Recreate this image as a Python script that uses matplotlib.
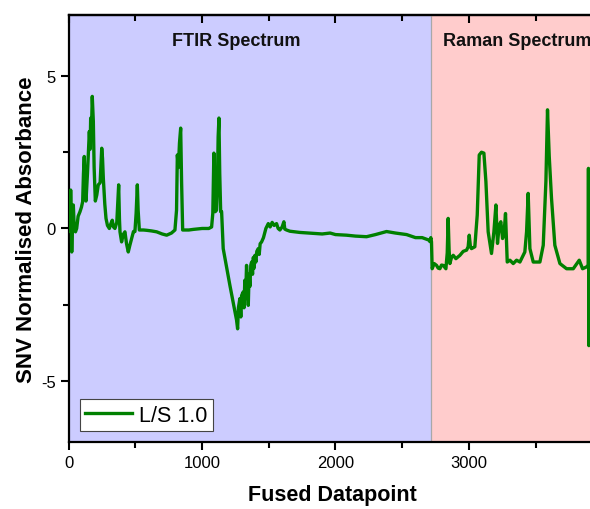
import matplotlib

matplotlib.use("Agg")
import matplotlib.pyplot as plt  # noqa: E402
from matplotlib.ticker import MultipleLocator  # noqa: E402

plt.rcParams["font.family"] = ["Liberation Sans", "DejaVu Sans"]
plt.rcParams["axes.unicode_minus"] = False

# fused FTIR + Raman spectrum
ftir_x = [5, 9, 14, 18, 22, 28, 34, 40, 50, 59, 70, 84, 95, 104, 110, 116, 122,
          129, 140, 154, 160, 164, 170, 176, 184, 190, 199, 210, 221, 235, 247,
          253, 259, 270, 279, 290, 304, 315, 326, 335, 346, 360, 374, 380, 384,
          396, 408, 421, 433, 446, 458, 471, 485, 496, 505, 514, 520, 529, 560,
          584, 620, 659, 700, 734, 770, 796, 808, 814, 822, 830, 839, 846, 854,
          900, 934, 1000, 1050, 1071, 1080, 1088, 1093, 1098, 1108, 1115, 1120,
          1126, 1132, 1139, 1146, 1158, 1208, 1246, 1258, 1266, 1272, 1283,
          1290, 1296, 1308, 1314, 1320, 1326, 1333, 1340, 1346, 1352, 1358,
          1365, 1371, 1378, 1384, 1390, 1396, 1403, 1410, 1421, 1428, 1435,
          1446, 1460, 1478, 1496, 1510, 1525, 1540, 1558, 1570, 1583, 1600,
          1613, 1620, 1633, 1658, 1733, 1800, 1900, 1960, 2000, 2083, 2150,
          2233, 2300, 2383, 2450, 2533, 2600, 2650, 2680, 2700, 2708, 2715,
          2720]
ftir_y = [0.2, -0.1, 1.26, 0.5, -0.77, 0.3, 0.77, 0.1, -0.11, 0.0, 0.4, 0.55,
          0.7, 0.88, 1.8, 2.36, 1.3, 0.9, 1.8, 3.18, 2.6, 3.62, 3.2, 4.33, 3.51,
          2.0, 0.9, 1.1, 1.43, 1.5, 2.63, 2.3, 1.64, 0.8, 0.33, 0.1, 0.0, 0.15,
          0.27, 0.05, 0.0, 0.2, 1.43, 0.3, -0.11, -0.44, -0.2, -0.11, -0.5,
          -0.77, -0.55, -0.33, -0.1, -0.1, 0.5, 1.43, 0.6, -0.05, -0.05, -0.06,
          -0.08, -0.11, -0.18, -0.22, -0.15, -0.05, 0.6, 2.41, 2.0, 2.8, 3.29,
          1.5, -0.05, -0.05, -0.03, 0.0, 0.0, 0.05, 0.5, 2.47, 1.0, 0.55, 0.6,
          1.6, 3.0, 3.62, 1.8, 0.55, 0.55, -0.66, -1.86, -2.74, -3.0, -3.29,
          -2.6, -2.3, -2.9, -2.2, -2.08, -2.6, -1.7, -2.3, -1.21, -1.9, -2.52,
          -1.5, -1.9, -1.2, -1.10, -1.5, -0.95, -1.3, -0.88, -1.1, -0.75,
          -0.66, -0.85, -0.5, -0.44, -0.3, 0.0, 0.16, 0.05, 0.2, 0.1, 0.16,
          0.0, -0.05, 0.05, 0.22, -0.02, -0.05, -0.09, -0.13, -0.15, -0.18,
          -0.15, -0.2, -0.22, -0.25, -0.27, -0.2, -0.1, -0.15, -0.2, -0.3,
          -0.3, -0.35, -0.38, -0.43, -0.3, -0.44]

raman_x = [2725, 2740, 2758, 2770, 2783, 2795, 2808, 2828, 2838, 2845, 2852,
           2858, 2870, 2883, 2903, 2933, 2958, 2983, 2995, 3003, 3012, 3020,
           3045, 3063, 3078, 3095, 3113, 3128, 3145, 3170, 3188, 3203, 3215,
           3228, 3240, 3253, 3265, 3275, 3288, 3308, 3333, 3358, 3383, 3420,
           3433, 3445, 3458, 3483, 3533, 3558, 3578, 3590, 3603, 3620, 3645,
           3683, 3733, 3783, 3828, 3853, 3883, 3895, 3897, 3900, 3903, 3920,
           3950]
raman_y = [-1.32, -1.15, -1.21, -1.3, -1.32, -1.2, -1.21, -1.32, -0.8, 0.33,
           -0.7, -1.15, -0.95, -0.88, -0.99, -0.88, -0.75, -0.71, -0.6, -0.22,
           -0.6, -0.66, -0.60, 0.44, 2.41, 2.5, 2.47, 1.54, -0.11, -0.82,
           -0.11, 0.77, -0.49, 0.11, 0.22, -0.33, -0.11, 0.49, -1.10, -1.04,
           -1.15, -1.04, -1.10, -0.77, -0.11, 1.15, -0.66, -1.10, -1.10, -0.55,
           1.54, 3.89, 2.36, 0.99, -0.55, -1.15, -1.32, -1.32, -1.04, -1.32,
           -1.26, -1.2, 1.97, -3.84, -1.5, -1.2, -1.2]

spans = [("FTIR Spectrum", 0, 2720, "#ccccff", 1255),
         ("Raman Spectrum", 2720, 4000, "#ffcccc", 3360)]

fig = plt.figure(figsize=(5.9, 5.1), dpi=100)
ax = fig.add_axes([0.1166, 0.1314, 0.895, 0.8373])

for name, x0, x1, col, xt in spans:
    ax.axvspan(x0, x1, color=col, lw=0, zorder=0)
    ax.text(xt, 6.15, name, ha="center", va="center", fontsize=13,
            fontweight="bold", color="#111111")
ax.axvline(2720, color="#a8a8a8", lw=0.9, zorder=1)

ax.plot(ftir_x + raman_x, ftir_y + raman_y, color="#008000", lw=2.4,
        label="L/S 1.0", zorder=3)

ax.set_xlim(0, 3960)
ax.set_ylim(-7, 7)
ax.xaxis.set_major_locator(MultipleLocator(1000))
ax.xaxis.set_minor_locator(MultipleLocator(500))
ax.yaxis.set_major_locator(MultipleLocator(5))
ax.yaxis.set_minor_locator(MultipleLocator(2.5))
ax.tick_params(which="both", direction="out", width=1.5, labelsize=12)
ax.tick_params(which="major", length=6)
ax.tick_params(which="minor", length=4)
for s in ax.spines.values():
    s.set_linewidth(1.6)

# mirrored top axis, ticks pointing in
top = ax.secondary_xaxis("top")
top.xaxis.set_major_locator(MultipleLocator(1000))
top.xaxis.set_minor_locator(MultipleLocator(500))
top.tick_params(which="both", direction="in", width=1.5, labeltop=False)
top.tick_params(which="major", length=6)
top.tick_params(which="minor", length=4)
top.spines["top"].set_linewidth(1.6)

ax.set_xlabel("Fused Datapoint", fontsize=15.5, fontweight="bold", labelpad=10)
ax.set_ylabel("SNV Normalised Absorbance", fontsize=16, fontweight="bold",
              labelpad=3)

leg = ax.legend(loc="lower left", fontsize=15.5, frameon=True, fancybox=False,
                borderpad=0.25, handlelength=2.2, handletextpad=0.3,
                borderaxespad=0.5)
leg.get_frame().set_edgecolor("#444444")
leg.get_frame().set_linewidth(0.8)
leg.get_frame().set_alpha(1)

fig.savefig("out.png", dpi=100)
